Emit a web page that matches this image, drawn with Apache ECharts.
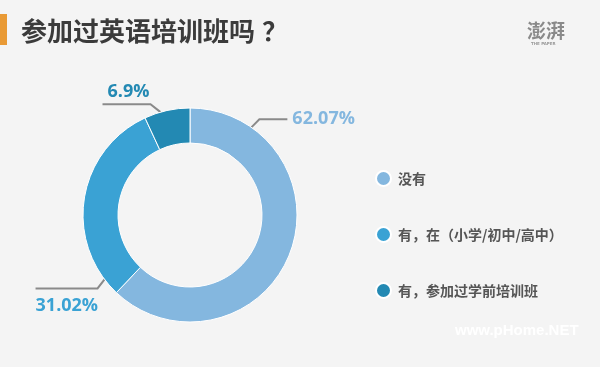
<!DOCTYPE html>
<html>
<head>
<meta charset="utf-8">
<script src="https://cdn.jsdelivr.net/npm/echarts@6/dist/echarts.min.js"></script>
<style>html,body{margin:0;padding:0;background:#f4f4f4;}#c{width:600px;height:367px;}</style>
</head>
<body>
<div id="c"></div>
<script>
const titleMain = '参加过英语培训班吗';
const titleMark = '？';
const categories = ['没有', '有，在（小学/初中/高中）', '有，参加过学前培训班'];
const values = [62.07, 31.02, 6.9];
const labels = ['62.07%', '31.02%', '6.9%'];
const colors = ['#84b7df', '#3aa2d4', '#2389b3'];

const CX = 190, CY = 215, R_IN = 72, R_OUT = 107;
// anchor angle (deg clockwise from top) for each label line
const anchorAngles = [35, 233, 344];

const chart = echarts.init(document.getElementById('c'));
chart.setOption({
  backgroundColor: '#f4f4f4',
  animation: false,
  color: colors,
  graphic: [
    { type: 'rect', left: 0, top: 14, shape: { width: 7, height: 31 }, style: { fill: '#e99a35' } },
    { type: 'text', x: 21, y: 31, style: {
        text: '{a|' + titleMain + '}{b|' + titleMark + '}',
        verticalAlign: 'middle',
        rich: {
          a: { font: 'bold 26px "Noto Sans CJK SC"', fill: '#3b3b3b' },
          b: { font: 'bold 26px "Noto Sans CJK SC"', fill: '#3b3b3b', padding: [0, 0, 0, 7] }
        }
    } },
    { type: 'text', x: 527, y: 31, style: { text: '澎湃', font: 'bold 19px "Noto Sans CJK SC"', fill: '#8a8a8a', verticalAlign: 'middle' } },
    { type: 'text', x: 531, y: 44, style: { text: 'THE PAPER', font: 'bold 4px "DejaVu Sans"', fill: '#9a9a9a', verticalAlign: 'middle' } },
    { type: 'text', x: 455, y: 331, style: { text: 'www.pHome.NET', font: 'bold 15px "Liberation Sans"', fill: '#ffffff', verticalAlign: 'middle' } }
  ],
  legend: {
    orient: 'vertical',
    left: 375,
    top: 170,
    padding: 0,
    icon: 'circle',
    itemWidth: 15,
    itemHeight: 15,
    itemGap: 39,
    textStyle: { fontSize: 14, fontWeight: 'bold', color: '#555', fontFamily: '"Noto Sans CJK SC"', padding: [0, 0, 0, 2] },
    data: categories
  },
  series: [{
    type: 'pie',
    center: [CX, CY],
    radius: [R_IN, R_OUT],
    startAngle: 90,
    clockwise: true,
    itemStyle: { borderColor: '#ffffff', borderWidth: 1 },
    data: categories.map((c, i) => ({ name: c, value: values[i], label: { color: colors[i] } })),
    label: {
      show: true,
      formatter: p => labels[p.dataIndex],
      fontSize: 18,
      fontWeight: 'bold',
      fontFamily: '"Open Sans"',
      width: 90
    },
    labelLine: { show: true, lineStyle: { color: '#8a8a8a', width: 2 }, length: 11, length2: 28 },
    labelLayout: function (p) {
      const i = p.dataIndex;
      const a = anchorAngles[i] * Math.PI / 180;
      const x0 = CX + R_OUT * Math.sin(a), y0 = CY - R_OUT * Math.cos(a);
      if (i === 0) {
        const pts = [[x0, y0], [x0 + 8, y0 - 8], [x0 + 36, y0 - 8]];
        return { x: pts[2][0] + 5, y: pts[2][1], align: 'left', verticalAlign: 'middle', labelLinePoints: pts };
      } else if (i === 1) {
        const pts = [[x0, y0], [x0 - 7, y0 + 9], [x0 - 69, y0 + 9]];
        return { x: pts[2][0], y: pts[2][1] + 17, align: 'left', verticalAlign: 'middle', labelLinePoints: pts };
      } else {
        const pts = [[x0, y0], [x0 - 10, y0 - 8], [x0 - 58, y0 - 8]];
        return { x: pts[2][0] + 5, y: pts[2][1] - 12, align: 'left', verticalAlign: 'middle', labelLinePoints: pts };
      }
    }
  }]
});
</script>
</body>
</html>
